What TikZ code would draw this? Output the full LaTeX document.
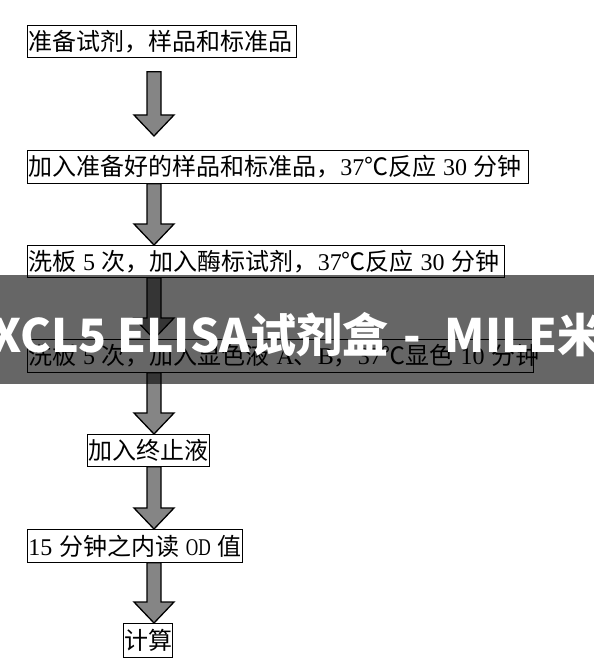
\documentclass[tikz,border=0pt]{standalone}
\usepackage{fontspec}
\usepackage{graphicx}
\setmainfont{Noto Sans CJK SC}
\newfontfamily\latfont{Liberation Serif}
\newfontfamily\wmfont{Noto Sans CJK SC}
\usetikzlibrary{calc}
\newcommand\hs{\hspace{0.28em}}
\newcommand\latn[1]{{\latfont #1}}
\newcommand\boxtxt[2]{\makebox[\dimexpr#1pt-2pt\relax][l]{#2}}
\newcommand\blockarr[2]{%
  \path[blockarrow] let \p1=#1, \p2=#2 in
    (\x1-7pt,\y1) -- (\x1+7pt,\y1) -- (\x1+7pt,\y2+21pt) -- (\x1+20pt,\y2+21pt)
    -- (\x2,\y2) -- (\x1-20pt,\y2+21pt) -- (\x1-7pt,\y2+21pt) -- cycle;}
\tikzset{
  stepbox/.style={draw=black, line width=0.8pt, inner xsep=1pt, inner ysep=0pt,
    anchor=north west, font=\fontsize{24}{24}\selectfont},
  blockarrow/.style={draw=black, line width=1.3pt, fill=black!48, line join=miter},
  wmtext/.style={text=white, inner sep=0pt, font=\wmfont\bfseries\fontsize{46}{46}\selectfont}
}
\begin{document}
\begin{tikzpicture}[x=1pt,y=-1pt]
\useasboundingbox (0,0) rectangle (594,660);
\fill[white] (0,0) rectangle (594,660);
\coordinate (axis) at (154,0);
\node[stepbox, minimum height=32pt] (b1) at (27,25) {\boxtxt{269}{准备试剂，样品和标准品}};
\node[stepbox, minimum height=33pt] (b2) at (27,150) {\boxtxt{501}{加入准备好的样品和标准品，\latn{37}℃反应\hs{}\latn{30}\hs{}分钟}};
\node[stepbox, minimum height=32pt] (b3) at (27,245) {\boxtxt{477}{洗板\hs{}\latn{5}\hs{}次，加入酶标试剂，\latn{37}℃反应\hs{}\latn{30}\hs{}分钟}};
\node[stepbox, minimum height=33pt] (b4) at (27,339) {\boxtxt{506}{洗板\hs{}\latn{5}\hs{}次，加入显色液\hs{}\latn{A}、\latn{B}，\latn{37}℃显色\hs{}\latn{10}\hs{}分钟}};
\node[stepbox, minimum height=32pt] (b5) at (87,434) {\boxtxt{122}{加入终止液}};
\node[stepbox, minimum height=33pt] (b6) at (27,529) {\boxtxt{215}{\latn{15}\hs{}分钟之内读\hs{}\scalebox{0.72}[1]{\latn{OD}}\hs{}值}};
\node[stepbox, minimum height=34pt] (b7) at (123,623) {\boxtxt{49}{计算}};
\blockarr{($(b1.south -| axis)+(0,14)$)}{($(b2.north -| axis)+(0,-14)$)}
\blockarr{(b2.south -| axis)}{(b3.north -| axis)}
\blockarr{(b3.south -| axis)}{(b4.north -| axis)}
\blockarr{(b4.south -| axis)}{(b5.north -| axis)}
\blockarr{(b5.south -| axis)}{(b6.north -| axis)}
\blockarr{(b6.south -| axis)}{(b7.north -| axis)}
\begin{scope}
\clip (0,0) rectangle (594,660);
\fill[black, opacity=0.6] (0,275) rectangle (594,384);
\node[wmtext, anchor=base east] (wm1) at (250,352) {XCL5 ELISA};
\node[wmtext, anchor=base west] (wm2) at (250,352) {试剂盒\hspace{15pt}-\hspace{24pt}MILE米};
\end{scope}
\end{tikzpicture}
\end{document}
